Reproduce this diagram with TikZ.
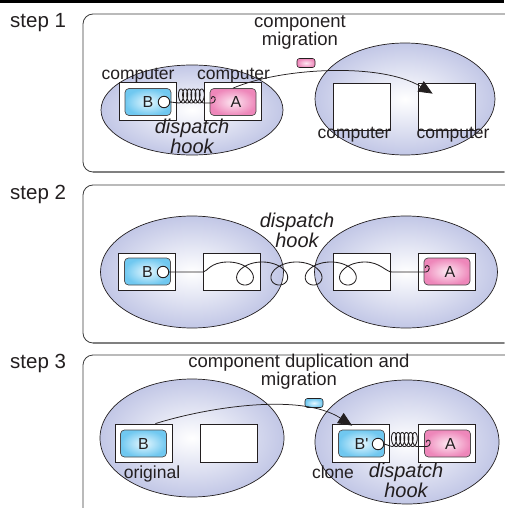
\documentclass[tikz,border=0pt]{standalone}
\usepackage{fontspec}
\setmainfont{Liberation Sans}
\usetikzlibrary{shapes.geometric,arrows.meta}

\definecolor{ellfill}{RGB}{194,199,230}
\definecolor{bluecomp}{RGB}{112,200,240}
\definecolor{bluelight}{RGB}{230,248,255}
\definecolor{pinkcomp}{RGB}{238,135,186}
\definecolor{pinklight}{RGB}{253,232,242}
\definecolor{framecol}{RGB}{60,60,60}
\definecolor{inkcol}{RGB}{35,31,32}

\tikzset{
  panel/.style={draw=framecol, line width=0.8pt, rounded corners=10pt},
  panelbase/.style={draw=black!50, line width=1.6pt},
  host/.style={ellipse, draw=inkcol, line width=0.7pt, inner sep=0pt,
    inner color=white, outer color=ellfill},
  computer/.style={draw=inkcol, line width=0.8pt, fill=white, inner sep=0pt,
    minimum width=57pt},
  compB/.style={draw=inkcol!80, line width=0.7pt, rounded corners=4pt,
    inner color=bluelight, outer color=bluecomp, inner sep=0pt,
    minimum width=46pt, minimum height=27pt, text=inkcol,
    font=\fontsize{16}{18}\selectfont},
  compA/.style={compB, inner color=pinklight, outer color=pinkcomp},
  token/.style={draw=inkcol, line width=0.6pt, rounded corners=2.5pt,
    inner sep=0pt, minimum width=18pt, minimum height=9pt},
  socket/.style={circle, draw=inkcol, line width=0.9pt, fill=white,
    minimum size=11.5pt, inner sep=0pt},
  wire/.style={draw=inkcol, line width=0.85pt},
  mig/.style={draw=inkcol, line width=0.75pt,
    -{Triangle[length=14pt,width=12pt]}},
  steplbl/.style={font=\fontsize{20.5}{24}\selectfont, text=inkcol,
    inner sep=0pt, anchor=base west},
  caption/.style={font=\fontsize{18.5}{18}\selectfont, text=inkcol,
    inner sep=0pt, align=center, anchor=north},
  hostlbl/.style={font=\fontsize{17.5}{20}\selectfont, text=inkcol,
    inner sep=0pt, anchor=base},
  hooklbl/.style={font=\itshape\fontsize{20}{20}\selectfont, text=inkcol,
    inner sep=0pt, align=center, anchor=north},
  hookend/.pic={\draw[wire] (0,0) .. controls (3.5,0) and (4.5,-6.5) ..
    (1.2,-6.5) .. controls (0,-6.5) and (-0.6,-5.5) .. (-0.6,-4.2);}
}

\begin{document}
\begin{tikzpicture}[x=1pt,y=-1pt]
\useasboundingbox (0,0) rectangle (504,508);
\fill[black] (0,0) rectangle (504,3);

% ---------- frames ----------
\draw[panel] (83,14) rectangle (520,172);
\draw[panelbase] (93,172) -- (504,172);
\draw[panel] (83,185) rectangle (520,343);
\draw[panelbase] (93,343) -- (504,343);
\draw[panel] (83,355) rectangle (520,520);

\node[steplbl] (st1) at (10,28) {step 1};
\node[steplbl] (st2) at (10,199) {step 2};
\node[steplbl] (st3) at (10,368) {step 3};

% ---------- step 1 ----------
\node[host, minimum width=182pt, minimum height=90pt] (h11) at (192,110) {};
\node[host, minimum width=180pt, minimum height=112pt] (h12) at (405,99) {};

\node[computer, minimum height=38pt] (c11) at (147.5,101) {};
\node[computer, minimum height=38pt] (c12) at (232.5,101) {};
\node[computer, minimum height=47pt] (c13) at (361.5,106.5) {};
\node[computer, minimum height=47pt] (c14) at (446.5,106.5) {};

\node[compB] (b1) at (148,102) {B\hspace{6pt}};
\node[compA] (a1) at (233,102) {\hspace{6pt}A};
\node[socket] (s1) at (164,102) {};
\draw[wire] (s1.east) -- (178.9,103)
  -- plot[domain=-3.1416:34.56, samples=500, variable=\t]
     ({181+0.66*\t-3.5*sin(\t r)},{96-7*cos(\t r)})
  -- (212,103);
\pic at (212,103) {hookend};

\node[token, inner color=pinklight, outer color=pinkcomp] (tk1) at (306,63) {};
\draw[mig] (a1.north) .. controls (280,68) and (380,62) ..
  ([shift={(15,11)}]c14.north west);

\node[caption] (cap1) at (300,15.5) {component\\migration};
\node[hostlbl] (n11) at (138,80) {computer};
\node[hostlbl] (n12) at (233.5,80) {computer};
\node[hostlbl] (n13) at (354,139) {computer};
\node[hostlbl] (n14) at (453,139) {computer};
\node[hooklbl] (dh1) at (192,119) {dispatch\\hook};

% ---------- step 2 ----------
\node[host, minimum width=183pt, minimum height=112pt] (h21) at (192,272) {};
\node[host, minimum width=183pt, minimum height=112pt] (h22) at (406,272) {};

\node[computer, minimum height=37pt] (c21) at (146.5,271.5) {};
\node[computer, minimum height=37pt] (c22) at (232,271.5) {};
\node[computer, minimum height=37pt] (c23) at (361.5,271.5) {};
\node[computer, minimum height=37pt] (c24) at (447,271.5) {};

\node[compB] (b2) at (147.5,271.5) {B\hspace{6pt}};
\node[compA] (a2) at (447,271.5) {\hspace{6pt}A};
\node[socket] (s2) at (163,272) {};
\draw[wire] (s2.east) -- (c22.west |- s2.east)
  .. controls (207,272) and (210,262) .. (227.8,262)
  -- plot[domain=-3.1416:21.99, samples=400, variable=\t]
     ({245+5.46*\t-16*sin(\t r)},{273.5+11.5*cos(\t r)})
  .. controls (380,262) and (386,272) .. (392,272)
  -- (426,272);
\pic at (426,272) {hookend};

\node[hooklbl] (dh2) at (297,213) {dispatch\\hook};

% ---------- step 3 ----------
\node[host, minimum width=184pt, minimum height=118pt] (h31) at (192,438) {};
\node[host, minimum width=184pt, minimum height=124pt] (h32) at (407,442) {};

\node[computer, minimum height=38pt] (c31) at (143.5,443) {};
\node[computer, minimum height=38pt] (c32) at (229,443) {};
\node[computer, minimum height=38pt] (c33) at (361,443) {};
\node[computer, minimum height=38pt] (c34) at (446.5,443) {};

\node[compB] (b3) at (143.5,443.5) {B};
\node[compB] (b4) at (361.5,443.5) {B\textquotesingle\hspace{8pt}};
\node[compA] (a3) at (447.5,443.5) {\hspace{6pt}A};
\node[socket] (s3) at (378,444) {};
\draw[wire] (s3.east) -- (391.9,446.5)
  -- plot[domain=-3.1416:34.56, samples=500, variable=\t]
     ({394+0.66*\t-3.5*sin(\t r)},{439.5-7*cos(\t r)})
  -- (427,446.5);
\pic at (427,446.5) {hookend};

\node[token, inner color=bluelight, outer color=bluecomp] (tk3) at (314,403) {};
\draw[mig] ([xshift=-17pt]c31.north east) .. controls (205,408) and (300,392) ..
  ([shift={(20,2)}]c33.north west);

\node[caption] (cap3) at (299,354) {component duplication and\\migration};
\node[hostlbl] (n31) at (152,478) {original};
\node[hostlbl] (n33) at (333,478) {clone};
\node[hooklbl] (dh3) at (406,463) {dispatch\\hook};
\end{tikzpicture}
\end{document}
